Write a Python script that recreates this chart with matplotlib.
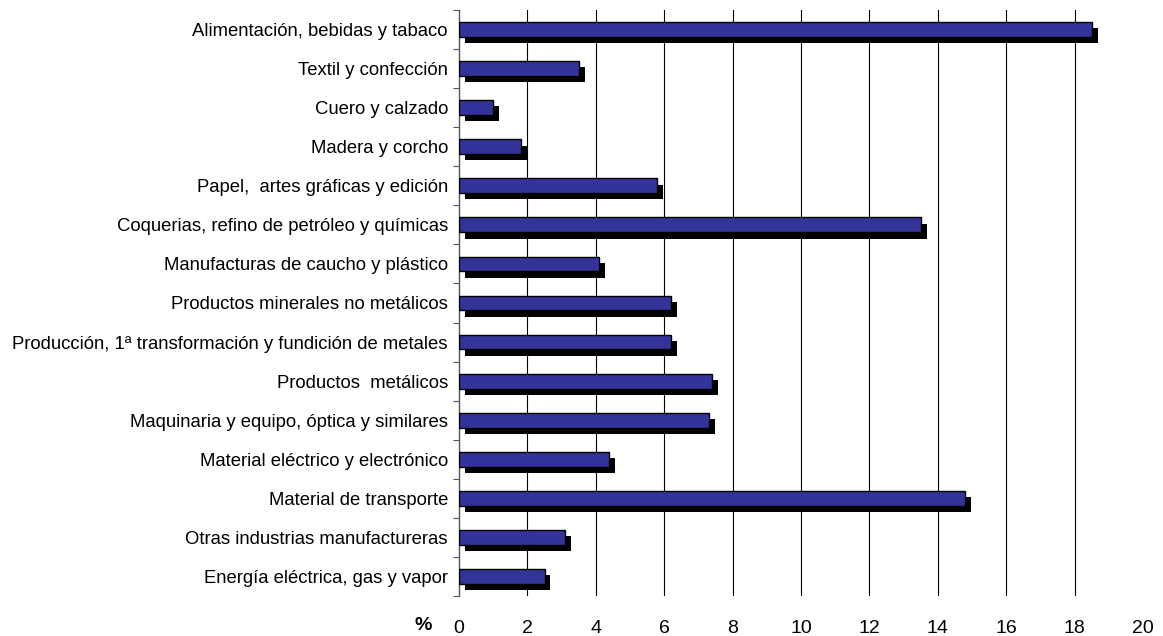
import matplotlib
matplotlib.use('Agg')
import matplotlib.pyplot as plt
import matplotlib.patheffects as pe
import numpy as np

# Datos (% por rama de actividad)
ramas = [
    'Alimentación, bebidas y tabaco',
    'Textil y confección',
    'Cuero y calzado',
    'Madera y corcho',
    'Papel,  artes gráficas y edición',
    'Coquerias, refino de petróleo y químicas',
    'Manufacturas de caucho y plástico',
    'Productos minerales no metálicos',
    'Producción, 1ª transformación y fundición de metales',
    'Productos  metálicos',
    'Maquinaria y equipo, óptica y similares',
    'Material eléctrico y electrónico',
    'Material de transporte',
    'Otras industrias manufactureras',
    'Energía eléctrica, gas y vapor',
]
valores = [18.5, 3.5, 1.0, 1.8, 5.8, 13.5, 4.1, 6.2, 6.2, 7.4, 7.3, 4.4, 14.8, 3.1, 2.5]
xticks = [0, 2, 4, 6, 8, 10, 12, 14, 16, 18, 20]

plt.rcParams['font.family'] = ['Liberation Sans', 'DejaVu Sans']

fig = plt.figure(figsize=(11.63, 6.36), dpi=100)
ax = fig.add_axes([459 / 1163, 1 - 596 / 636, 684 / 1163, 586 / 636])

y = np.arange(len(ramas))
barras = ax.barh(y, valores, height=0.38, color='#333399', edgecolor='black',
                 linewidth=1.0, zorder=3)
# sombra negra desplazada
for b in barras:
    b.set_path_effects([
        pe.SimplePatchShadow(offset=(4.3, -4.5), shadow_rgbFace='black', alpha=1.0),
        pe.Normal(),
    ])

ax.set_xlim(0, 20)
ax.set_ylim(len(ramas) - 0.5, -0.5)

# rejilla vertical (sin linea en 20)
for xv in xticks[1:-1]:
    ax.axvline(xv, color='black', linewidth=0.8, zorder=1)

ax.set_xticks(xticks)
ax.set_xticklabels([str(v) for v in xticks], fontsize=14)
ax.tick_params(axis='x', length=0, pad=17)

# marcas entre categorias, etiquetas centradas
ax.set_yticks(np.arange(len(ramas) + 1) - 0.5)
ax.set_yticklabels([])
ax.tick_params(axis='y', which='major', direction='out', length=4, color='#555555')
ax.set_yticks(y, minor=True)
ax.set_yticklabels(ramas, minor=True, fontsize=13.3)
ax.tick_params(axis='y', which='minor', length=0, pad=8)

for s in ['top', 'right', 'bottom']:
    ax.spines[s].set_visible(False)
ax.spines['left'].set_color('#555555')
ax.spines['left'].set_linewidth(1.0)

fig.text(423 / 1163, 1 - 626 / 636, '%', fontsize=14, fontweight='bold',
         ha='center', va='center')

fig.savefig('out.png', dpi=100)
